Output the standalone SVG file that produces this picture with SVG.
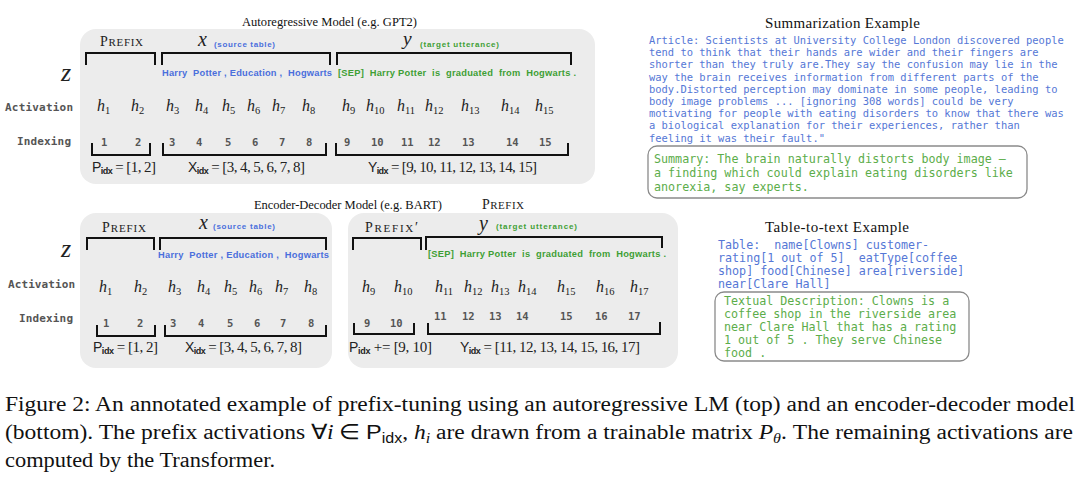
<svg xmlns="http://www.w3.org/2000/svg" width="1080" height="490" viewBox="0 0 1080 490">
<style>
.panel{fill:#ececec}
.br{fill:none;stroke:#111;stroke-width:2;stroke-linejoin:miter}
.ttl{font-family:"Liberation Serif",serif;font-size:12.5px;fill:#111}
.ex{font-family:"Liberation Serif",serif;font-size:15px;fill:#111}
.sc{font-family:"Liberation Serif",serif;fill:#222}
.var{font-family:"Liberation Serif",serif;font-style:italic;fill:#222}
.lab{font-family:"DejaVu Sans Mono",monospace;font-weight:bold;font-size:11px;fill:#555}
.num{font-family:"DejaVu Sans Mono",monospace;font-weight:bold;font-size:10.5px;fill:#555}
.h{font-family:"Liberation Serif",serif;font-style:italic;font-size:16px;fill:#222}
.s{font-style:normal;font-size:10.5px}
.tb{font-family:"Liberation Sans",sans-serif;font-weight:bold;font-size:9.3px;fill:#4a6fdc;white-space:pre}
.tg{font-family:"Liberation Sans",sans-serif;font-weight:bold;font-size:9.3px;fill:#3f9f35;white-space:pre}
.pb{font-family:"Liberation Sans",sans-serif;font-weight:bold;font-size:8px;fill:#4a6fdc}
.pg{font-family:"Liberation Sans",sans-serif;font-weight:bold;font-size:8px;fill:#3f9f35}
.m{font-family:"Liberation Serif",serif;font-size:15px;fill:#222}
.sf{font-family:"Liberation Sans",sans-serif}
.sfs{font-family:"Liberation Sans",sans-serif;font-size:9px;font-weight:bold}
.art{font-family:"DejaVu Sans Mono",monospace;font-size:10.45px;fill:#5577d6;white-space:pre}
.sum{font-family:"DejaVu Sans Mono",monospace;font-size:11.7px;fill:#5cad4a;white-space:pre}
.tab{font-family:"DejaVu Sans Mono",monospace;font-size:11.7px;fill:#5577d6;white-space:pre}
.box{fill:none;stroke:#8a8a8a;stroke-width:1.3}
.cap{font-family:"Liberation Serif",serif;font-size:20.5px;fill:#111}
</style>

<!-- Autoregressive model -->
<g id="autoregressive">
<text class="ttl" x="242" y="25.5" textLength="175">Autoregressive Model (e.g. GPT2)</text>
<rect class="panel" x="80" y="29" width="515" height="155" rx="16"/>
<text class="sc" x="100" y="45.5" textLength="43"><tspan font-size="14">P</tspan><tspan font-size="11">REFIX</tspan></text>
<text class="var" x="198" y="46" font-size="20">x</text>
<text class="pb" x="214" y="47" textLength="61">(source table)</text>
<text class="var" x="403" y="45" font-size="19.5">y</text>
<text class="pg" x="420" y="47" textLength="79">(target utterance)</text>
<text class="var" x="61" y="81" font-size="26">z</text>
<text class="tb" x="162" y="76" textLength="170">Harry  Potter , Education ,  Hogwarts</text>
<text class="tg" x="338" y="76" textLength="238">[SEP]  Harry Potter  is  graduated  from  Hogwarts .</text>
<text class="lab" x="5" y="111" textLength="68">Activation</text>
<text class="h" x="97" y="111">h<tspan class="s" dy="3">1</tspan></text>
<text class="h" x="131" y="111">h<tspan class="s" dy="3">2</tspan></text>
<text class="h" x="166" y="111">h<tspan class="s" dy="3">3</tspan></text>
<text class="h" x="195" y="111">h<tspan class="s" dy="3">4</tspan></text>
<text class="h" x="222" y="111">h<tspan class="s" dy="3">5</tspan></text>
<text class="h" x="247" y="111">h<tspan class="s" dy="3">6</tspan></text>
<text class="h" x="272" y="111">h<tspan class="s" dy="3">7</tspan></text>
<text class="h" x="302" y="111">h<tspan class="s" dy="3">8</tspan></text>
<text class="h" x="342" y="111">h<tspan class="s" dy="3">9</tspan></text>
<text class="h" x="366" y="111">h<tspan class="s" dy="3">10</tspan></text>
<text class="h" x="397" y="111">h<tspan class="s" dy="3">11</tspan></text>
<text class="h" x="425" y="111">h<tspan class="s" dy="3">12</tspan></text>
<text class="h" x="461" y="111">h<tspan class="s" dy="3">13</tspan></text>
<text class="h" x="501" y="111">h<tspan class="s" dy="3">14</tspan></text>
<text class="h" x="535" y="111">h<tspan class="s" dy="3">15</tspan></text>
<text class="lab" x="17" y="145" textLength="54">Indexing</text>
<text class="num" y="146"><tspan x="101">1</tspan><tspan x="135">2</tspan><tspan x="169">3</tspan><tspan x="196">4</tspan><tspan x="225">5</tspan><tspan x="252">6</tspan><tspan x="279">7</tspan><tspan x="306">8</tspan><tspan x="344">9</tspan><tspan x="371">10</tspan><tspan x="401">11</tspan><tspan x="428">12</tspan><tspan x="462">13</tspan><tspan x="506">14</tspan><tspan x="539">15</tspan></text>
<text class="m" x="92" y="172" textLength="64"><tspan class="sf" font-size="14">P</tspan><tspan class="sfs" dy="2">idx</tspan><tspan dy="-2"> = [1, 2]</tspan></text>
<text class="m" x="188" y="172" textLength="117"><tspan class="sf" font-size="14">X</tspan><tspan class="sfs" dy="2">idx</tspan><tspan dy="-2"> = [3, 4, 5, 6, 7, 8]</tspan></text>
<text class="m" x="368" y="172" textLength="169"><tspan class="sf" font-size="14">Y</tspan><tspan class="sfs" dy="2">idx</tspan><tspan dy="-2"> = [9, 10, 11, 12, 13, 14, 15]</tspan></text>
</g>

<!-- Encoder-decoder model -->
<g id="encoder-decoder">
<text class="ttl" x="254" y="209" textLength="188">Encoder-Decoder Model (e.g. BART)</text>
<text class="sc" x="482" y="209" textLength="42"><tspan font-size="14">P</tspan><tspan font-size="11">REFIX</tspan></text>
<rect class="panel" x="80" y="213" width="252" height="155" rx="16"/>
<rect class="panel" x="348" y="213" width="330" height="155" rx="16"/>
<text class="sc" x="102" y="232" textLength="44"><tspan font-size="14">P</tspan><tspan font-size="11">REFIX</tspan></text>
<text class="var" x="199" y="229" font-size="20">x</text>
<text class="pb" x="213" y="229" textLength="62">(source table)</text>
<text class="sc" x="365" y="232" textLength="53"><tspan font-size="14">P</tspan><tspan font-size="11">REFIX</tspan><tspan font-size="14">′</tspan></text>
<text class="var" x="479" y="230" font-size="20">y</text>
<text class="pg" x="496" y="229" textLength="81">(target utterance)</text>
<text class="var" x="61" y="257" font-size="26">z</text>
<text class="tb" x="158" y="258" textLength="171">Harry  Potter , Education ,  Hogwarts</text>
<text class="tg" x="428" y="257" textLength="238">[SEP]  Harry Potter  is  graduated  from  Hogwarts .</text>
<text class="lab" x="8" y="288" textLength="67">Activation</text>
<text class="h" x="99" y="292">h<tspan class="s" dy="3">1</tspan></text>
<text class="h" x="134" y="292">h<tspan class="s" dy="3">2</tspan></text>
<text class="h" x="168" y="292">h<tspan class="s" dy="3">3</tspan></text>
<text class="h" x="197" y="292">h<tspan class="s" dy="3">4</tspan></text>
<text class="h" x="224" y="292">h<tspan class="s" dy="3">5</tspan></text>
<text class="h" x="249" y="292">h<tspan class="s" dy="3">6</tspan></text>
<text class="h" x="275" y="292">h<tspan class="s" dy="3">7</tspan></text>
<text class="h" x="304" y="292">h<tspan class="s" dy="3">8</tspan></text>
<text class="h" x="362" y="292">h<tspan class="s" dy="3">9</tspan></text>
<text class="h" x="394" y="292">h<tspan class="s" dy="3">10</tspan></text>
<text class="h" x="435" y="292">h<tspan class="s" dy="3">11</tspan></text>
<text class="h" x="464" y="292">h<tspan class="s" dy="3">12</tspan></text>
<text class="h" x="491" y="292">h<tspan class="s" dy="3">13</tspan></text>
<text class="h" x="518" y="292">h<tspan class="s" dy="3">14</tspan></text>
<text class="h" x="557" y="292">h<tspan class="s" dy="3">15</tspan></text>
<text class="h" x="596" y="292">h<tspan class="s" dy="3">16</tspan></text>
<text class="h" x="630" y="292">h<tspan class="s" dy="3">17</tspan></text>
<text class="lab" x="19" y="322" textLength="54">Indexing</text>
<text class="num" y="327"><tspan x="103">1</tspan><tspan x="137">2</tspan><tspan x="170">3</tspan><tspan x="198">4</tspan><tspan x="227">5</tspan><tspan x="254">6</tspan><tspan x="280">7</tspan><tspan x="308">8</tspan><tspan x="364">9</tspan><tspan x="390">10</tspan></text>
<text class="num" y="320"><tspan x="434">11</tspan><tspan x="462">12</tspan><tspan x="489">13</tspan><tspan x="516">14</tspan><tspan x="560">15</tspan><tspan x="595">16</tspan><tspan x="628">17</tspan></text>
<text class="m" x="93" y="352" textLength="65"><tspan class="sf" font-size="14">P</tspan><tspan class="sfs" dy="2">idx</tspan><tspan dy="-2"> = [1, 2]</tspan></text>
<text class="m" x="185" y="352" textLength="117"><tspan class="sf" font-size="14">X</tspan><tspan class="sfs" dy="2">idx</tspan><tspan dy="-2"> = [3, 4, 5, 6, 7, 8]</tspan></text>
<text class="m" x="349" y="352" textLength="83"><tspan class="sf" font-size="14">P</tspan><tspan class="sfs" dy="2">idx</tspan><tspan dy="-2"> += [9, 10]</tspan></text>
<text class="m" x="460" y="352" textLength="180"><tspan class="sf" font-size="14">Y</tspan><tspan class="sfs" dy="2">idx</tspan><tspan dy="-2"> = [11, 12, 13, 14, 15, 16, 17]</tspan></text>
</g>

<!-- brackets -->
<g id="connectors">
<path class="br" d="M86,65V53H155V65M162,65V53H330V65M337,65V53H571V65"/>
<path class="br" d="M92,143V155H150V143M163,143V155H326V143M336,143V155H568V143"/>
<path class="br" d="M87,250V238H154V250M160,250V238H326V250"/>
<path class="br" d="M97,325V336H155V325M165,325V336H326V325"/>
<path class="br" d="M353,250V238H421V250M426,250V237H662V248"/>
<path class="br" d="M354,323V334H414V323M428,323V334H660V322"/>
</g>

<!-- Summarization example -->
<g id="summarization">
<text class="ex" x="765" y="28" textLength="155">Summarization Example</text>
<text class="art" x="649" y="44">Article: Scientists at University College London discovered people</text>
<text class="art" x="649" y="56.2">tend to think that their hands are wider and their fingers are</text>
<text class="art" x="649" y="68.4">shorter than they truly are.They say the confusion may lie in the</text>
<text class="art" x="649" y="80.6">way the brain receives information from different parts of the</text>
<text class="art" x="649" y="92.8">body.Distorted perception may dominate in some people, leading to</text>
<text class="art" x="649" y="105">body image problems ... [ignoring 308 words] could be very</text>
<text class="art" x="649" y="117.2">motivating for people with eating disorders to know that there was</text>
<text class="art" x="649" y="129.4">a biological explanation for their experiences, rather than</text>
<text class="art" x="649" y="141.6">feeling it was their fault."</text>
<rect class="box" x="648" y="146" width="379" height="52" rx="9"/>
<text class="sum" x="654" y="163">Summary: The brain naturally distorts body image –</text>
<text class="sum" x="654" y="177">a finding which could explain eating disorders like</text>
<text class="sum" x="654" y="191">anorexia, say experts.</text>
</g>

<!-- Table-to-text example -->
<g id="table-to-text">
<text class="ex" x="765" y="232" textLength="144">Table-to-text Example</text>
<text class="tab" x="718" y="249">Table:  name[Clowns] customer-</text>
<text class="tab" x="718" y="262">rating[1 out of 5]  eatType[coffee</text>
<text class="tab" x="718" y="275">shop] food[Chinese] area[riverside]</text>
<text class="tab" x="718" y="288">near[Clare Hall]</text>
<rect class="box" x="715" y="292" width="254" height="69" rx="9"/>
<text class="sum" x="724" y="305">Textual Description: Clowns is a</text>
<text class="sum" x="724" y="318">coffee shop in the riverside area</text>
<text class="sum" x="724" y="331">near Clare Hall that has a rating</text>
<text class="sum" x="724" y="344">1 out of 5 . They serve Chinese</text>
<text class="sum" x="724" y="357">food .</text>
</g>

<!-- caption -->
<g id="caption">
<text class="cap" x="5" y="411" textLength="1070" lengthAdjust="spacingAndGlyphs">Figure 2:  An annotated example of prefix-tuning using an autoregressive LM (top) and an encoder-decoder model</text>
<text class="cap" x="5" y="439" textLength="1068" lengthAdjust="spacingAndGlyphs">(bottom). The prefix activations ∀<tspan font-style="italic">i</tspan> ∈ <tspan class="sf">P</tspan><tspan class="sf" font-size="14" dy="4">idx</tspan><tspan dy="-4">, </tspan><tspan font-style="italic">h</tspan><tspan font-style="italic" font-size="14" dy="4">i</tspan><tspan dy="-4"> are drawn from a trainable matrix </tspan><tspan font-style="italic">P</tspan><tspan font-style="italic" font-size="14" dy="4">θ</tspan><tspan dy="-4">. The remaining activations are</tspan></text>
<text class="cap" x="5" y="467" textLength="270" lengthAdjust="spacingAndGlyphs">computed by the Transformer.</text>
</g>
</svg>
